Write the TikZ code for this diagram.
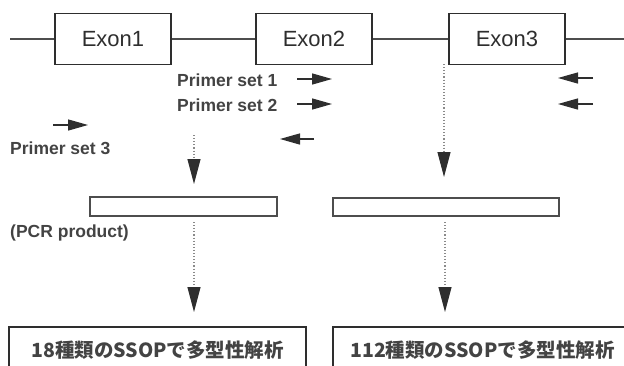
\documentclass[tikz,border=0pt]{standalone}
\usepackage{fontspec}
\setmainfont{Liberation Sans}
\newfontfamily\cjk{Noto Sans CJK JP}
\usetikzlibrary{arrows.meta}
\definecolor{ink}{HTML}{2E2E2E}
\definecolor{dots}{HTML}{8A8A8A}
\begin{document}
\begin{tikzpicture}[x=1pt,y=-1pt,
  exonbox/.style={draw=ink, line width=1.6pt, minimum width=116pt, minimum height=51pt,
    inner sep=0pt, font=\fontsize{22}{26}\selectfont, text=ink},
  gene/.style={draw=ink!85, line width=1.4pt},
  primer/.style={font=\bfseries\fontsize{17.5}{21}\selectfont, text=ink!90, inner sep=0pt, anchor=west},
  parrow/.style={draw=ink, line width=1.3pt, -{Triangle[length=20pt,width=11pt]}},
  flow/.style={draw=dots, line width=1.1pt, dotted, -{Triangle[length=25pt,width=13pt,color=ink]}},
  pcrbox/.style={draw=ink!85, line width=1.6pt, inner sep=0pt},
  resbox/.style={draw=ink, line width=1.6pt, inner sep=0pt, minimum height=46pt,
    font=\cjk\bfseries\fontsize{19.5}{23}\selectfont, text=ink!90}]
\useasboundingbox (0,0) rectangle (624,365);
\clip (0,0) rectangle (624,365);

% gene structure
\node[exonbox] (exon1) at (113,39) {Exon1};
\node[exonbox] (exon2) at (314,39) {Exon2};
\node[exonbox] (exon3) at (507,39) {Exon3};
\coordinate (gstart) at (10,39);
\coordinate (gend) at (630,39);
\draw[gene] (gstart) -- (exon1.west);
\draw[gene] (exon1.east) -- (exon2.west);
\draw[gene] (exon2.east) -- (exon3.west);
\draw[gene] (exon3.east) -- (gend);

% primer labels
\node[primer] (ps1) at (177,80) {Primer set 1};
\node[primer] (ps2) at (177,105) {Primer set 2};
\node[primer] (ps3) at (10,148) {Primer set 3};
\node[primer] (pcrlab) at (10,233) {(PCR product)};

% primer arrows
\coordinate (p1fa) at (297,79);  \coordinate (p1fb) at (332,79);
\coordinate (p2fa) at (297,104); \coordinate (p2fb) at (332,104);
\coordinate (p1ra) at (593,78);  \coordinate (p1rb) at (558,78);
\coordinate (p2ra) at (593,104); \coordinate (p2rb) at (558,104);
\coordinate (p3ra) at (314,139); \coordinate (p3rb) at (280,139);
\coordinate (p3fa) at (53,125);  \coordinate (p3fb) at (88,125);
\draw[parrow] (p1fa) -- (p1fb);
\draw[parrow] (p2fa) -- (p2fb);
\draw[parrow] (p1ra) -- (p1rb);
\draw[parrow] (p2ra) -- (p2rb);
\draw[parrow] (p3ra) -- (p3rb);
\draw[parrow] (p3fa) -- (p3fb);

% PCR products
\node[pcrbox, minimum width=187pt, minimum height=19pt] (pcr1) at (183.5,206.5) {};
\node[pcrbox, minimum width=226pt, minimum height=18pt] (pcr2) at (446,207) {};

% flow arrows
\coordinate (f1a) at (194,135); \coordinate (f1b) at (194,184);
\coordinate (f2a) at (444,64);  \coordinate (f2b) at (444,177);
\coordinate (f3a) at (194,222); \coordinate (f3b) at (194,312);
\coordinate (f4a) at (445,222); \coordinate (f4b) at (445,312);
\draw[flow] (f1a) -- (f1b);
\draw[flow] (f2a) -- (f2b);
\draw[flow] (f3a) -- (f3b);
\draw[flow] (f4a) -- (f4b);

% result boxes
\node[resbox, minimum width=297pt] (res1) at (157.5,350) {18種類のSSOPで多型性解析};
\node[resbox, minimum width=299pt] (res2) at (482.5,350) {112種類のSSOPで多型性解析};
\end{tikzpicture}
\end{document}
